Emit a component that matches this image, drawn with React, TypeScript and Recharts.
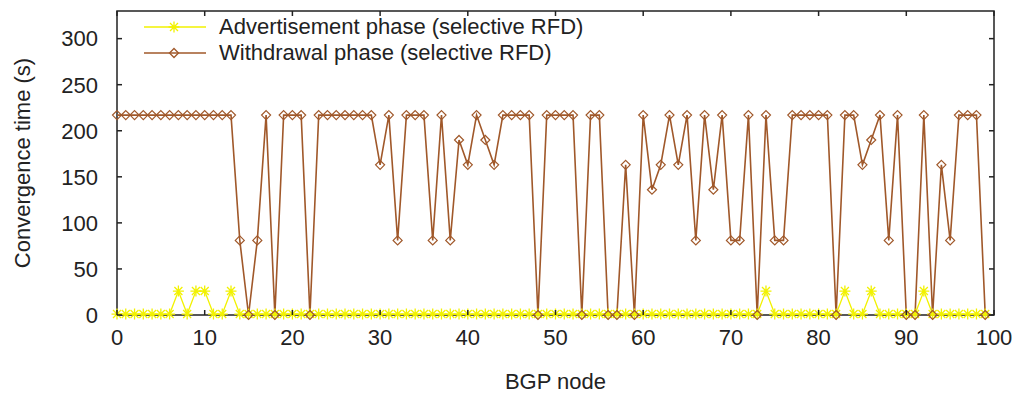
import { Legend, Line, LineChart, ReferenceArea, XAxis, YAxis } from "recharts";

// Convergence time per BGP node (x = node index 0..99)
const withdrawal = [
  217, 217, 217, 217, 217, 217, 217, 217, 217, 217,
  217, 217, 217, 217, 81, 0, 81, 217, 0, 217,
  217, 217, 0, 217, 217, 217, 217, 217, 217, 217,
  163, 217, 81, 217, 217, 217, 81, 217, 81, 190,
  163, 217, 190, 163, 217, 217, 217, 217, 0, 217,
  217, 217, 217, 0, 217, 217, 0, 0, 163, 0,
  217, 136, 163, 217, 163, 217, 81, 217, 136, 217,
  81, 81, 217, 0, 217, 81, 81, 217, 217, 217,
  217, 217, 0, 217, 217, 163, 190, 217, 81, 217,
  0, 0, 217, 0, 163, 81, 217, 217, 217, 0,
];
const advertisement = [
  1, 1, 1, 1, 1, 1, 1, 26, 1, 26,
  26, 1, 1, 26, 1, 1, 1, 1, 1, 1,
  1, 1, 1, 1, 1, 1, 1, 1, 1, 1,
  1, 1, 1, 1, 1, 1, 1, 1, 1, 1,
  1, 1, 1, 1, 1, 1, 1, 1, 1, 1,
  1, 1, 1, 1, 1, 1, 1, 1, 1, 1,
  1, 1, 1, 1, 1, 1, 1, 1, 1, 1,
  1, 1, 1, 1, 26, 1, 1, 1, 1, 1,
  1, 1, 1, 26, 1, 1, 26, 1, 1, 1,
  1, 1, 26, 1, 1, 1, 1, 1, 1, 1,
];
const xTicks = [0, 10, 20, 30, 40, 50, 60, 70, 80, 90, 100];
const yTicks = [0, 50, 100, 150, 200, 250, 300];
const seriesNames = ["Advertisement phase (selective RFD)", "Withdrawal phase (selective RFD)"];

const data = withdrawal.map((w, i) => ({ node: i, adv: advertisement[i], wd: w }));

const W = 1019;
const H = 396;
const PLOT_LEFT = 117;
const PLOT_TOP = 11;
const PLOT_RIGHT = 994;
const PLOT_BOTTOM = 315;
const TICK = 5;
const FONT = "'Liberation Sans', Arial, sans-serif";
const INK = "#222";
const ADV = "#f2f200";
const WD = "#a0582a";

function starPath(cx: number, cy: number) {
  const r = 5.5;
  const d = 4;
  return `M${cx - r},${cy}H${cx + r}M${cx},${cy - r}V${cy + r}M${cx - d},${cy - d}L${cx + d},${cy + d}M${cx - d},${cy + d}L${cx + d},${cy - d}`;
}

function diamondPath(cx: number, cy: number) {
  const r = 4.5;
  return `M${cx},${cy - r}L${cx + r},${cy}L${cx},${cy + r}L${cx - r},${cy}Z`;
}

const renderStar = (p: any) => (
  <path key={`s${p.index}`} d={starPath(p.cx, p.cy)} stroke={ADV} strokeWidth={1.3} fill="none" />
);
const renderDiamond = (p: any) => (
  <path key={`d${p.index}`} d={diamondPath(p.cx, p.cy)} stroke={WD} strokeWidth={1.2} fill="none" />
);

function XTick(p: any) {
  return (
    <g>
      <line x1={p.x} x2={p.x} y1={PLOT_BOTTOM} y2={PLOT_BOTTOM - TICK} stroke={INK} strokeWidth={1.5} />
      <line x1={p.x} x2={p.x} y1={PLOT_TOP} y2={PLOT_TOP + TICK} stroke={INK} strokeWidth={1.5} />
      <text x={p.x} y={p.y} dy="0.71em" textAnchor="middle" fontSize={22} fontFamily={FONT} fill={INK}>
        {p.payload.value}
      </text>
    </g>
  );
}

function YTick(p: any) {
  return (
    <g>
      <line x1={PLOT_LEFT} x2={PLOT_LEFT + TICK} y1={p.y} y2={p.y} stroke={INK} strokeWidth={1.5} />
      <line x1={PLOT_RIGHT} x2={PLOT_RIGHT - TICK} y1={p.y} y2={p.y} stroke={INK} strokeWidth={1.5} />
      <text x={p.x} y={p.y} dy="0.355em" textAnchor="end" fontSize={22} fontFamily={FONT} fill={INK}>
        {p.payload.value}
      </text>
    </g>
  );
}

function LegendBox() {
  const rows = [
    { name: seriesNames[0], color: ADV, marker: starPath(34, 13) },
    { name: seriesNames[1], color: WD, marker: diamondPath(34, 13) },
  ];
  return (
    <div>
      {rows.map((r) => (
        <div key={r.name} style={{ display: "flex", alignItems: "center", height: 26 }}>
          <svg width={66} height={26}>
            <line x1={4} x2={66} y1={13} y2={13} stroke={r.color} strokeWidth={1.5} />
            <path d={r.marker} stroke={r.color} strokeWidth={1.3} fill="none" />
          </svg>
          <span style={{ marginLeft: 13, fontFamily: FONT, fontSize: 22, color: INK, whiteSpace: "nowrap" }}>{r.name}</span>
        </div>
      ))}
    </div>
  );
}

function YLabel(p: any) {
  const cx = 22;
  const cy = (PLOT_TOP + PLOT_BOTTOM) / 2;
  return (
    <text x={cx} y={cy} transform={`rotate(-90 ${cx} ${cy})`} dy="0.355em" textAnchor="middle" fontSize={22} fontFamily={FONT} fill={INK}>
      Convergence time (s)
    </text>
  );
}

export default function App() {
  return (
    <div style={{ width: W, height: H, background: "#fff" }}>
      <style>{`body{margin:0}`}</style>
      <LineChart width={W} height={H} data={data} margin={{ top: PLOT_TOP, right: W - PLOT_RIGHT, bottom: 0, left: 0 }}>
        <XAxis
          dataKey="node"
          type="number"
          domain={[0, 100]}
          ticks={xTicks}
          height={H - PLOT_BOTTOM}
          tickSize={0}
          tickMargin={14}
          axisLine={false}
          tick={<XTick />}
          label={{ value: "BGP node", position: "insideBottom", offset: 7, fontSize: 22, fontFamily: FONT, fill: INK }}
        />
        <YAxis
          type="number"
          domain={[0, 330]}
          ticks={yTicks}
          width={PLOT_LEFT}
          tickSize={0}
          tickMargin={19}
          axisLine={false}
          tick={<YTick />}
          label={<YLabel />}
        />
        <Legend
          layout="vertical"
          align="center"
          verticalAlign="middle"
          wrapperStyle={{ top: 14, left: 140, width: 560 }}
          content={() => <LegendBox />}
        />
        <Line dataKey="adv" stroke={ADV} strokeWidth={1.3} dot={renderStar} activeDot={false} isAnimationActive={false} type="linear" />
        <Line dataKey="wd" stroke={WD} strokeWidth={1.6} dot={renderDiamond} activeDot={false} isAnimationActive={false} type="linear" />
        <ReferenceArea x1={0} x2={100} y1={0} y2={330} fill="none" stroke={INK} strokeWidth={1.5} />
      </LineChart>
    </div>
  );
}
